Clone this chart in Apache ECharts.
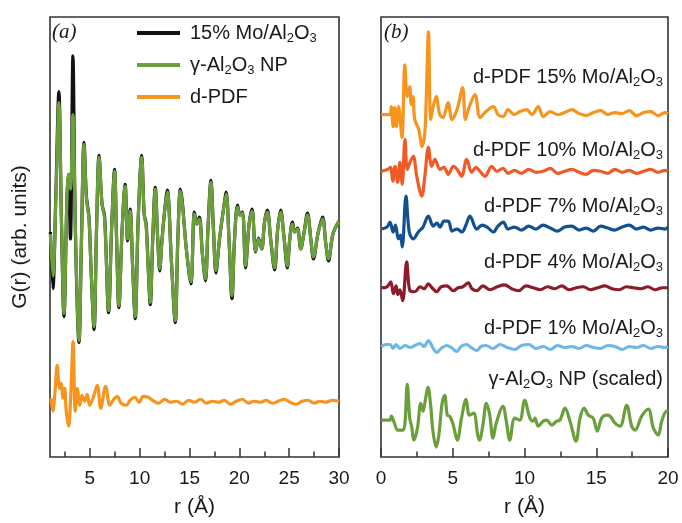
<!DOCTYPE html>
<html>
<head>
<meta charset="utf-8">
<title>G(r) Mo/Al2O3</title>
<script src="https://cdn.jsdelivr.net/npm/echarts@6.0.0/dist/echarts.min.js"></script>
<style>
  html, body { margin: 0; padding: 0; background: #fff; }
  #main { width: 682px; height: 523px; }
</style>
</head>
<body>
<div id="main"></div>
<script>
// ---- panel (a): full PDFs, r in Angstrom, G(r) in arb. units ----
const rLeft = [
  1.04, 1.29, 1.59, 1.89, 2.15, 2.40, 2.70, 2.85, 3.05, 3.30,
  3.55, 3.91, 4.16, 4.41, 4.66, 4.91, 5.12, 5.42, 5.67, 5.92,
  6.22, 6.48, 6.88, 7.18, 7.48, 7.68, 7.91, 8.24, 8.54, 8.79,
  9.04, 9.30, 9.55, 9.85, 10.20, 10.45, 10.65, 10.86, 11.06, 11.31,
  11.56, 11.81, 12.01, 12.22, 12.47, 12.77, 13.17, 13.57, 13.83, 14.08,
  14.28, 14.68, 15.14, 15.49, 15.74, 15.99, 16.29, 16.60, 16.85, 17.15,
  17.40, 17.65, 18.01, 18.41, 18.68, 18.96, 19.26, 19.52, 19.82, 20.07,
  20.32, 20.62, 20.98, 21.28, 21.63, 21.93, 22.24, 22.54, 22.81, 23.14,
  23.54, 23.85, 24.15, 24.45, 24.82, 25.06, 25.33, 25.56, 25.83, 26.16,
  26.47, 26.84, 27.17, 27.44, 27.88, 28.35, 28.68, 28.95, 29.39, 30.0
];
const gMo15 = [
  22.6, 16.9, 26.5, 36.7, 23.6, 14.1, 25.9, 28.4, 21.9, 40.3,
  22.6, 11.5, 21.9, 31.6, 26.1, 24.1, 18.9, 12.8, 22.9, 30.3,
  25.4, 24.2, 14.5, 22.9, 28.9, 21.9, 15.0, 22.9, 27.4, 21.7,
  24.9, 18.9, 13.9, 23.9, 30.3, 24.4, 23.4, 18.9, 15.3, 21.9,
  27.1, 21.9, 18.7, 21.6, 24.4, 26.8, 19.9, 13.5, 21.9, 26.9,
  25.6, 20.9, 17.4, 24.6, 23.4, 24.1, 20.4, 17.7, 22.9, 27.8,
  22.9, 18.5, 21.9, 24.9, 26.6, 21.9, 15.9, 21.9, 25.3, 24.3,
  24.6, 19.0, 23.4, 24.9, 20.6, 22.0, 20.9, 23.7, 24.8, 21.9,
  18.8, 22.9, 24.8, 22.4, 19.0, 21.9, 23.6, 22.6, 23.0, 20.9,
  22.4, 24.5, 21.9, 19.9, 22.4, 24.1, 21.4, 19.7, 22.4, 23.7
];
const gAlumina = [
  22.4, 18.2, 25.9, 35.6, 23.9, 14.4, 25.9, 28.4, 26.9, 34.4,
  22.9, 11.7, 21.9, 31.4, 25.9, 23.9, 18.9, 13.1, 22.9, 30.1,
  25.4, 23.9, 14.7, 22.9, 28.7, 21.9, 15.2, 22.9, 27.2, 21.9,
  24.7, 18.9, 14.1, 23.9, 30.1, 24.4, 23.1, 18.9, 15.5, 21.9,
  26.9, 21.9, 18.9, 21.4, 24.4, 26.6, 19.9, 13.7, 21.9, 26.7,
  25.4, 20.9, 17.6, 24.4, 23.4, 23.9, 20.4, 17.9, 22.9, 27.6,
  22.9, 18.7, 21.9, 24.9, 26.4, 21.9, 16.2, 21.9, 25.1, 24.3,
  24.5, 19.2, 23.4, 24.7, 20.7, 21.9, 20.9, 23.7, 24.6, 21.9,
  19.0, 22.9, 24.6, 22.4, 19.2, 21.9, 23.4, 22.6, 22.9, 20.9,
  22.4, 24.3, 21.9, 20.1, 22.4, 23.9, 21.4, 19.9, 22.4, 23.7
];
const rDiffA = [
  1.09, 1.29, 1.49, 1.72, 1.96, 2.12, 2.30, 2.47, 2.63, 2.87,
  3.07, 3.32, 3.53, 3.74, 3.98, 4.21, 4.48, 4.74, 4.98, 5.32,
  5.75, 6.09, 6.58, 7.00, 7.33, 7.73, 8.14, 8.64, 9.04, 9.50,
  9.95, 10.35, 10.86, 11.3, 11.9, 12.5, 13.1, 13.7, 14.3, 14.9,
  15.5, 16.1, 16.7, 17.3, 17.9, 18.5, 19.1, 19.7, 20.3, 20.9,
  21.5, 22.1, 22.7, 23.3, 23.9, 24.5, 25.1, 25.7, 26.3, 26.9,
  27.5, 28.1, 28.7, 29.3, 30.0
];
const gDiffA = [
  5.9, 4.6, 6.4, 9.2, 6.9, 7.4, 5.9, 6.9, 4.6, 3.1,
  5.9, 11.6, 4.6, 6.9, 5.2, 6.2, 5.6, 6.3, 5.2, 5.9,
  7.2, 4.9, 7.1, 5.2, 5.7, 6.1, 5.4, 5.2, 5.7, 6.0,
  5.5, 6.1, 6.0, 5.7, 5.4, 5.8, 5.5, 5.6, 5.3, 5.7,
  5.5, 5.8, 5.4, 5.6, 5.5, 5.7, 5.3, 5.6, 5.8, 5.4,
  5.6, 5.5, 5.7, 5.4, 5.6, 5.8, 5.5, 5.3, 5.6, 5.7,
  5.4, 5.6, 5.5, 5.7, 5.6
];

// ---- panel (b): stacked difference PDFs ----
const rD15 = [
  0.02, 0.61, 0.72, 0.84, 0.95, 1.07, 1.23, 1.46, 1.66, 1.83,
  2.00, 2.11, 2.23, 2.35, 2.63, 2.86, 3.07, 3.31, 3.46, 3.62,
  3.85, 4.09, 4.32, 4.67, 4.95, 5.30, 5.69, 5.88, 6.13, 6.55,
  6.90, 7.32, 7.83, 8.15, 8.52, 8.85, 9.27, 9.69, 10.15, 10.52,
  10.96, 11.31, 11.8, 12.3, 12.8, 13.3, 13.8, 14.3, 14.8, 15.3,
  15.8, 16.3, 16.8, 17.3, 17.8, 18.3, 18.8, 19.3, 19.8, 20.0
];
const gD15 = [
  34.4, 34.4, 35.2, 33.2, 35.1, 33.2, 35.2, 32.1, 39.4, 36.2,
  37.2, 35.4, 36.2, 33.9, 32.9, 31.2, 32.9, 42.7, 33.9, 35.1,
  36.2, 34.4, 34.1, 35.6, 33.9, 34.9, 37.1, 33.9, 35.1, 36.4,
  34.1, 34.7, 35.2, 34.4, 34.2, 34.9, 34.4, 34.7, 34.9, 34.4,
  35.2, 34.2, 34.7, 34.4, 34.6, 34.9, 34.5, 34.3, 34.6, 34.8,
  34.4, 34.6, 34.5, 34.8, 34.3, 34.6, 34.7, 34.3, 34.6, 34.5
];
const rD10 = [
  0.02, 0.49, 0.66, 0.82, 0.98, 1.16, 1.32, 1.48, 1.67, 1.83,
  2.02, 2.25, 2.49, 2.84, 3.07, 3.30, 3.53, 3.76, 4.11, 4.39,
  4.69, 5.04, 5.30, 5.62, 5.97, 6.32, 6.62, 6.90, 7.25, 7.71,
  8.08, 8.50, 8.85, 9.3, 9.8, 10.3, 10.8, 11.3, 11.8, 12.3,
  12.8, 13.3, 13.8, 14.3, 14.8, 15.3, 15.8, 16.3, 16.8, 17.3,
  17.8, 18.3, 18.8, 19.3, 19.8, 20.0
];
const gD10 = [
  28.7, 28.9, 29.1, 27.7, 29.2, 27.6, 29.6, 27.4, 31.9, 28.9,
  29.6, 30.2, 28.2, 26.2, 28.4, 31.1, 29.2, 29.9, 28.9, 29.1,
  28.4, 29.2, 28.9, 28.2, 29.9, 28.6, 29.1, 28.7, 28.2, 29.2,
  28.7, 29.0, 28.5, 28.8, 28.5, 28.9, 28.6, 28.7, 29.0, 28.5,
  28.7, 28.9, 28.6, 28.4, 28.8, 28.7, 28.5, 28.9, 28.6, 28.8,
  28.5, 28.7, 28.9, 28.6, 28.8, 28.7
];
const rD7 = [
  0.02, 0.42, 0.63, 0.84, 1.01, 1.21, 1.36, 1.48, 1.74, 1.97,
  2.25, 2.60, 2.93, 3.30, 3.64, 3.90, 4.11, 4.39, 4.69, 4.95,
  5.30, 5.64, 5.92, 6.20, 6.67, 7.04, 7.39, 7.83, 8.15, 8.52,
  8.85, 9.3, 9.8, 10.3, 10.8, 11.3, 11.8, 12.3, 12.8, 13.3,
  13.8, 14.3, 14.8, 15.3, 15.8, 16.3, 16.8, 17.3, 17.8, 18.3,
  18.8, 19.3, 19.8, 20.0
];
const gD7 = [
  22.9, 23.1, 23.6, 22.6, 23.3, 21.9, 22.3, 21.1, 26.2, 22.6,
  21.9, 22.6, 23.1, 24.2, 23.2, 23.5, 23.1, 23.7, 23.7, 22.7,
  22.9, 22.6, 23.3, 24.2, 22.9, 23.3, 23.1, 22.6, 23.2, 23.6,
  22.9, 23.1, 22.8, 23.2, 22.9, 23.3, 23.0, 22.7, 23.1, 23.2,
  22.8, 23.0, 22.7, 23.2, 23.0, 22.8, 23.1, 23.3, 22.9, 23.1,
  22.8, 23.0, 22.9, 23.1
];
const rD4 = [
  0.02, 0.42, 0.68, 0.86, 1.05, 1.18, 1.32, 1.51, 1.79, 2.02,
  2.37, 2.72, 3.00, 3.30, 3.55, 3.88, 4.18, 4.58, 5.04, 5.37,
  5.71, 6.08, 6.34, 6.67, 7.1, 7.6, 8.1, 8.6, 9.1, 9.6,
  10.1, 10.6, 11.1, 11.6, 12.1, 12.6, 13.1, 13.6, 14.1, 14.6,
  15.1, 15.6, 16.1, 16.6, 17.1, 17.6, 18.1, 18.6, 19.1, 19.6,
  20.0
];
const gD4 = [
  17.0, 17.1, 17.6, 16.4, 17.2, 16.3, 16.8, 15.7, 19.6, 16.7,
  16.6, 17.1, 16.9, 17.4, 17.0, 16.6, 17.1, 17.2, 16.7, 17.0,
  17.1, 17.5, 16.9, 16.7, 17.2, 16.8, 17.1, 17.3, 16.9, 16.7,
  17.2, 17.0, 16.8, 17.1, 16.9, 17.2, 16.8, 17.0, 17.1, 16.8,
  17.0, 17.2, 16.9, 16.8, 17.1, 17.0, 16.9, 17.1, 16.8, 17.0,
  17.0
];
const rD1 = [
  0.02, 0.35, 0.63, 0.84, 1.05, 1.32, 1.67, 2.02, 2.37, 2.72,
  3.00, 3.30, 3.64, 3.88, 4.18, 4.58, 4.88, 5.28, 5.57, 5.97,
  6.27, 6.67, 6.97, 7.32, 7.8, 8.3, 8.8, 9.3, 9.8, 10.3,
  10.8, 11.3, 11.8, 12.3, 12.8, 13.3, 13.8, 14.3, 14.8, 15.3,
  15.8, 16.3, 16.8, 17.3, 17.8, 18.3, 18.8, 19.3, 19.8, 20.0
];
const gD1 = [
  11.1, 11.3, 11.3, 10.9, 11.3, 10.9, 11.2, 11.0, 11.2, 11.4,
  11.1, 11.7, 10.9, 10.5, 10.9, 11.2, 11.0, 10.6, 11.1, 11.3,
  11.0, 10.7, 11.1, 11.2, 10.9, 11.3, 11.0, 10.8, 11.2, 11.3,
  10.9, 11.1, 10.8, 11.2, 11.0, 11.1, 10.9, 11.2, 11.0, 10.9,
  11.2, 11.1, 10.8, 11.1, 11.0, 11.2, 10.9, 11.1, 11.0, 11.1
];
const rNP = [
  0.02, 0.61, 0.72, 0.91, 1.18, 1.53, 1.67, 1.83, 2.00, 2.13,
  2.30, 2.54, 2.77, 2.93, 3.05, 3.28, 3.46, 3.62, 3.85, 4.04,
  4.25, 4.44, 4.62, 4.79, 5.02, 5.32, 5.61, 5.93, 6.16, 6.46,
  6.74, 6.86, 7.11, 7.34, 7.57, 7.80, 8.03, 8.50, 8.73, 8.97,
  9.32, 9.67, 10.01, 10.38, 10.61, 10.73, 10.96, 11.31, 11.55, 11.90,
  12.24, 12.47, 12.82, 13.17, 13.59, 13.87, 14.15, 14.45, 14.79, 15.07,
  15.38, 15.73, 15.96, 16.31, 16.66, 17.12, 17.47, 17.70, 18.17, 18.63,
  18.98, 19.32, 19.56, 19.91, 20.0
];
const gNP = [
  3.7, 3.7, 4.1, 3.5, 2.7, 2.7, 3.4, 7.3, 3.9, 3.1,
  1.7, 2.9, 5.4, 4.6, 5.4, 7.0, 5.2, 2.6, 1.0, 2.3,
  5.3, 6.2, 4.2, 4.1, 3.3, 1.7, 3.9, 5.8, 4.2, 4.4,
  2.2, 1.7, 3.3, 5.4, 4.3, 1.9, 3.4, 5.1, 3.6, 1.7,
  3.9, 3.7, 5.7, 3.9, 3.6, 3.9, 3.1, 3.6, 3.7, 3.2,
  3.6, 3.7, 4.9, 3.6, 1.6, 3.9, 4.9, 4.2, 3.9, 2.6,
  3.9, 4.2, 4.1, 3.4, 3.1, 5.2, 3.1, 2.7, 4.1, 4.8,
  2.9, 2.2, 3.6, 4.6, 4.5
];

// tick positions (Angstrom)
const ticksA = [5, 10, 15, 20, 25, 30];
const minorTicksA = [2.5, 7.5, 12.5, 17.5, 22.5, 27.5];

const FONT = '"Liberation Sans", Arial, sans-serif';
const TXT = '#1a1a1a';

function pairs(xs, ys) {
  let n = Math.min(xs.length, ys.length);
  let out = [];
  for (let i = 0; i < n; i++) out.push([xs[i], ys[i]]);
  return out;
}

function curve(name, xIdx, yIdx, xs, ys, color) {
  return {
    name: name,
    type: 'line',
    xAxisIndex: xIdx,
    yAxisIndex: yIdx,
    data: pairs(xs, ys),
    symbol: 'none',
    smooth: 0.35,
    color: color,
    lineStyle: { color: color, width: 3.2 },
    emphasis: { disabled: true }
  };
}

// rich text for the Al2O3 subscripts
const richN = { fontSize: 20, lineHeight: 24, fontFamily: FONT, color: TXT };
const richS = { fontSize: 13, lineHeight: 9, verticalAlign: 'bottom', fontFamily: FONT, color: TXT };

const legendLabels = {
  '15% Mo/Al2O3': '{n|15% Mo/Al}{s|2}{n|O}{s|3}',
  'γ-Al2O3 NP': '{n|γ-Al}{s|2}{n|O}{s|3}{n| NP}',
  'd-PDF': '{n|d-PDF}'
};

function sideLabel(text, y) {
  return {
    type: 'text',
    x: 663,
    y: y,
    style: {
      text: text,
      align: 'right',
      verticalAlign: 'middle',
      fill: TXT,
      rich: {
        n: { fontSize: 20, lineHeight: 24, fontFamily: FONT, fill: TXT },
        s: { fontSize: 13, lineHeight: 9, verticalAlign: 'bottom', fontFamily: FONT, fill: TXT }
      }
    }
  };
}

const tickStyle = { color: '#333', width: 1.5 };

let myChart = echarts.init(document.getElementById('main'));

let option = {
  animation: false,
  backgroundColor: '#fff',
  grid: [
    { left: 50, right: 343, top: 17, bottom: 64, show: true, borderColor: '#333', borderWidth: 1.6 },
    { left: 381, right: 14, top: 17, bottom: 64, show: true, borderColor: '#333', borderWidth: 1.6 }
  ],
  xAxis: [
    {
      gridIndex: 0, type: 'value', position: 'bottom', min: 1, max: 30,
      axisLine: { show: false },
      splitLine: { show: false },
      axisTick: { inside: true, length: 9, customValues: ticksA, lineStyle: tickStyle },
      axisLabel: { customValues: ticksA, fontSize: 19, fontFamily: FONT, color: TXT, margin: 12 },
      name: 'r (Å)', nameLocation: 'middle', nameGap: 40,
      nameTextStyle: { fontSize: 21, fontFamily: FONT, color: TXT }
    },
    {
      gridIndex: 0, type: 'value', position: 'bottom', min: 1, max: 30,
      axisLine: { show: false },
      splitLine: { show: false },
      axisTick: { inside: true, length: 5.5, customValues: minorTicksA, lineStyle: tickStyle },
      axisLabel: { show: false }
    },
    {
      gridIndex: 1, type: 'value', position: 'bottom', min: 0, max: 20, interval: 5,
      axisLine: { show: false },
      splitLine: { show: false },
      axisTick: { inside: true, length: 9, lineStyle: tickStyle },
      minorTick: { show: true, splitNumber: 2, length: 5.5, lineStyle: tickStyle },
      axisLabel: { fontSize: 19, fontFamily: FONT, color: TXT, margin: 12 },
      name: 'r (Å)', nameLocation: 'middle', nameGap: 40,
      nameTextStyle: { fontSize: 21, fontFamily: FONT, color: TXT }
    }
  ],
  yAxis: [
    {
      gridIndex: 0, type: 'value', min: 0, max: 44.2,
      axisLine: { show: false }, axisTick: { show: false }, axisLabel: { show: false },
      splitLine: { show: false },
      name: 'G(r) (arb. units)', nameLocation: 'middle', nameGap: 19,
      nameTextStyle: { fontSize: 21, fontFamily: FONT, color: TXT }
    },
    {
      gridIndex: 1, type: 'value', min: 0, max: 44.2, show: false
    }
  ],
  legend: {
    data: ['15% Mo/Al2O3', 'γ-Al2O3 NP', 'd-PDF'],
    orient: 'vertical',
    left: 137,
    top: 23,
    padding: 0,
    itemGap: 10,
    itemWidth: 43,
    itemHeight: 4,
    icon: 'rect',
    selectedMode: false,
    formatter: function (name) { return legendLabels[name]; },
    textStyle: {
      fontSize: 20, fontFamily: FONT, color: TXT, padding: [0, 0, 0, 5],
      rich: { n: richN, s: richS }
    }
  },
  graphic: [
    { type: 'text', left: 52, top: 22, style: { text: '(a)', font: 'italic 21px "Liberation Serif", serif', fill: TXT } },
    { type: 'text', left: 384, top: 22, style: { text: '(b)', font: 'italic 21px "Liberation Serif", serif', fill: TXT } },
    sideLabel('{n|d-PDF 15% Mo/Al}{s|2}{n|O}{s|3}', 77),
    sideLabel('{n|d-PDF 10% Mo/Al}{s|2}{n|O}{s|3}', 150),
    sideLabel('{n|d-PDF 7% Mo/Al}{s|2}{n|O}{s|3}', 206),
    sideLabel('{n|d-PDF 4% Mo/Al}{s|2}{n|O}{s|3}', 262),
    sideLabel('{n|d-PDF 1% Mo/Al}{s|2}{n|O}{s|3}', 328),
    sideLabel('{n|γ-Al}{s|2}{n|O}{s|3}{n| NP (scaled)}', 379)
  ],
  series: [
    curve('15% Mo/Al2O3', 0, 0, rLeft, gMo15, '#111111'),
    curve('γ-Al2O3 NP', 0, 0, rLeft, gAlumina, '#6b9f3b'),
    curve('d-PDF', 0, 0, rDiffA, gDiffA, '#f7941d'),
    curve('d-PDF 15% Mo/Al2O3', 2, 1, rD15, gD15, '#f7941d'),
    curve('d-PDF 10% Mo/Al2O3', 2, 1, rD10, gD10, '#ef5a27'),
    curve('d-PDF 7% Mo/Al2O3', 2, 1, rD7, gD7, '#12518f'),
    curve('d-PDF 4% Mo/Al2O3', 2, 1, rD4, gD4, '#8d1c2b'),
    curve('d-PDF 1% Mo/Al2O3', 2, 1, rD1, gD1, '#6db7e9'),
    curve('γ-Al2O3 NP (scaled)', 2, 1, rNP, gNP, '#6b9f3b')
  ]
};

myChart.setOption(option);
window.addEventListener('resize', function () { myChart.resize(); });
</script>
</body>
</html>
